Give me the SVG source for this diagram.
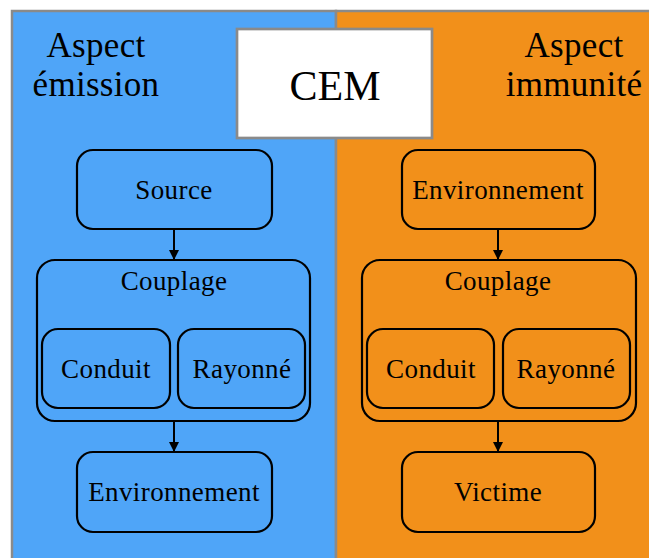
<svg xmlns="http://www.w3.org/2000/svg" width="649" height="558" viewBox="0 0 649 558">
<defs>
<style>
.panel{stroke:#8a8a8a;stroke-width:2.5}
.box{stroke:#000;stroke-width:2.2}
.blue{fill:#4fa5f8}
.orange{fill:#f2901a}
.t{font-family:"Liberation Serif","Times New Roman",serif;fill:#000;text-anchor:middle}
.n{font-size:27px;letter-spacing:0.4px}
.h{font-size:35px;letter-spacing:0.3px}
.edge{stroke:#000;stroke-width:2;fill:none;marker-end:url(#ah)}
</style>
<marker id="ah" markerWidth="10" markerHeight="10" refX="10" refY="5" orient="auto" markerUnits="userSpaceOnUse">
<path d="M0,0 L10,5 L0,10 Z" fill="#000"/>
</marker>
</defs>
<rect x="0" y="0" width="649" height="558" fill="#fff"/>
<g id="panel-emission">
<rect class="panel blue" x="12" y="11" width="324" height="570"/>
<text class="t h" x="96" y="57">Aspect</text>
<text class="t h" x="96" y="96">émission</text>
</g>
<g id="panel-immunite">
<rect class="panel orange" x="336" y="11" width="330" height="570"/>
<text class="t h" x="574" y="57">Aspect</text>
<text class="t h" x="574" y="96">immunité</text>
</g>
<g id="cem">
<rect x="237" y="29" width="195" height="109" fill="#fff" stroke="#8a8a8a" stroke-width="2.7"/>
<text class="t" x="335" y="100" font-size="42">CEM</text>
</g>
<g id="source">
<rect class="box blue" x="77" y="150" width="195" height="79" rx="16"/>
<text class="t n" x="174" y="199">Source</text>
</g>
<g id="couplage-e">
<rect class="box blue" x="37" y="260" width="273" height="161" rx="18"/>
<text class="t n" x="174" y="290">Couplage</text>
</g>
<g id="conduit-e">
<rect class="box blue" x="42" y="329" width="128" height="79" rx="16"/>
<text class="t n" x="106" y="378">Conduit</text>
</g>
<g id="rayonne-e">
<rect class="box blue" x="178" y="329" width="127" height="79" rx="16"/>
<text class="t n" x="242" y="378">Rayonné</text>
</g>
<g id="env-e">
<rect class="box blue" x="77" y="452" width="195" height="80" rx="16"/>
<text class="t n" x="174" y="501">Environnement</text>
</g>
<g id="env-i">
<rect class="box orange" x="402" y="150" width="193" height="79" rx="16"/>
<text class="t n" x="498" y="199">Environnement</text>
</g>
<g id="couplage-i">
<rect class="box orange" x="362" y="260" width="274" height="161" rx="18"/>
<text class="t n" x="498" y="290">Couplage</text>
</g>
<g id="conduit-i">
<rect class="box orange" x="367" y="329" width="127" height="79" rx="16"/>
<text class="t n" x="431" y="378">Conduit</text>
</g>
<g id="rayonne-i">
<rect class="box orange" x="503" y="329" width="127" height="79" rx="16"/>
<text class="t n" x="566" y="378">Rayonné</text>
</g>
<g id="victime">
<rect class="box orange" x="402" y="452" width="193" height="80" rx="16"/>
<text class="t n" x="498" y="501">Victime</text>
</g>
<g id="connectors">
<line class="edge" x1="174" y1="229" x2="174" y2="260"/>
<line class="edge" x1="174" y1="421" x2="174" y2="452"/>
<line class="edge" x1="498" y1="229" x2="498" y2="260"/>
<line class="edge" x1="498" y1="421" x2="498" y2="452"/>
</g>
</svg>
